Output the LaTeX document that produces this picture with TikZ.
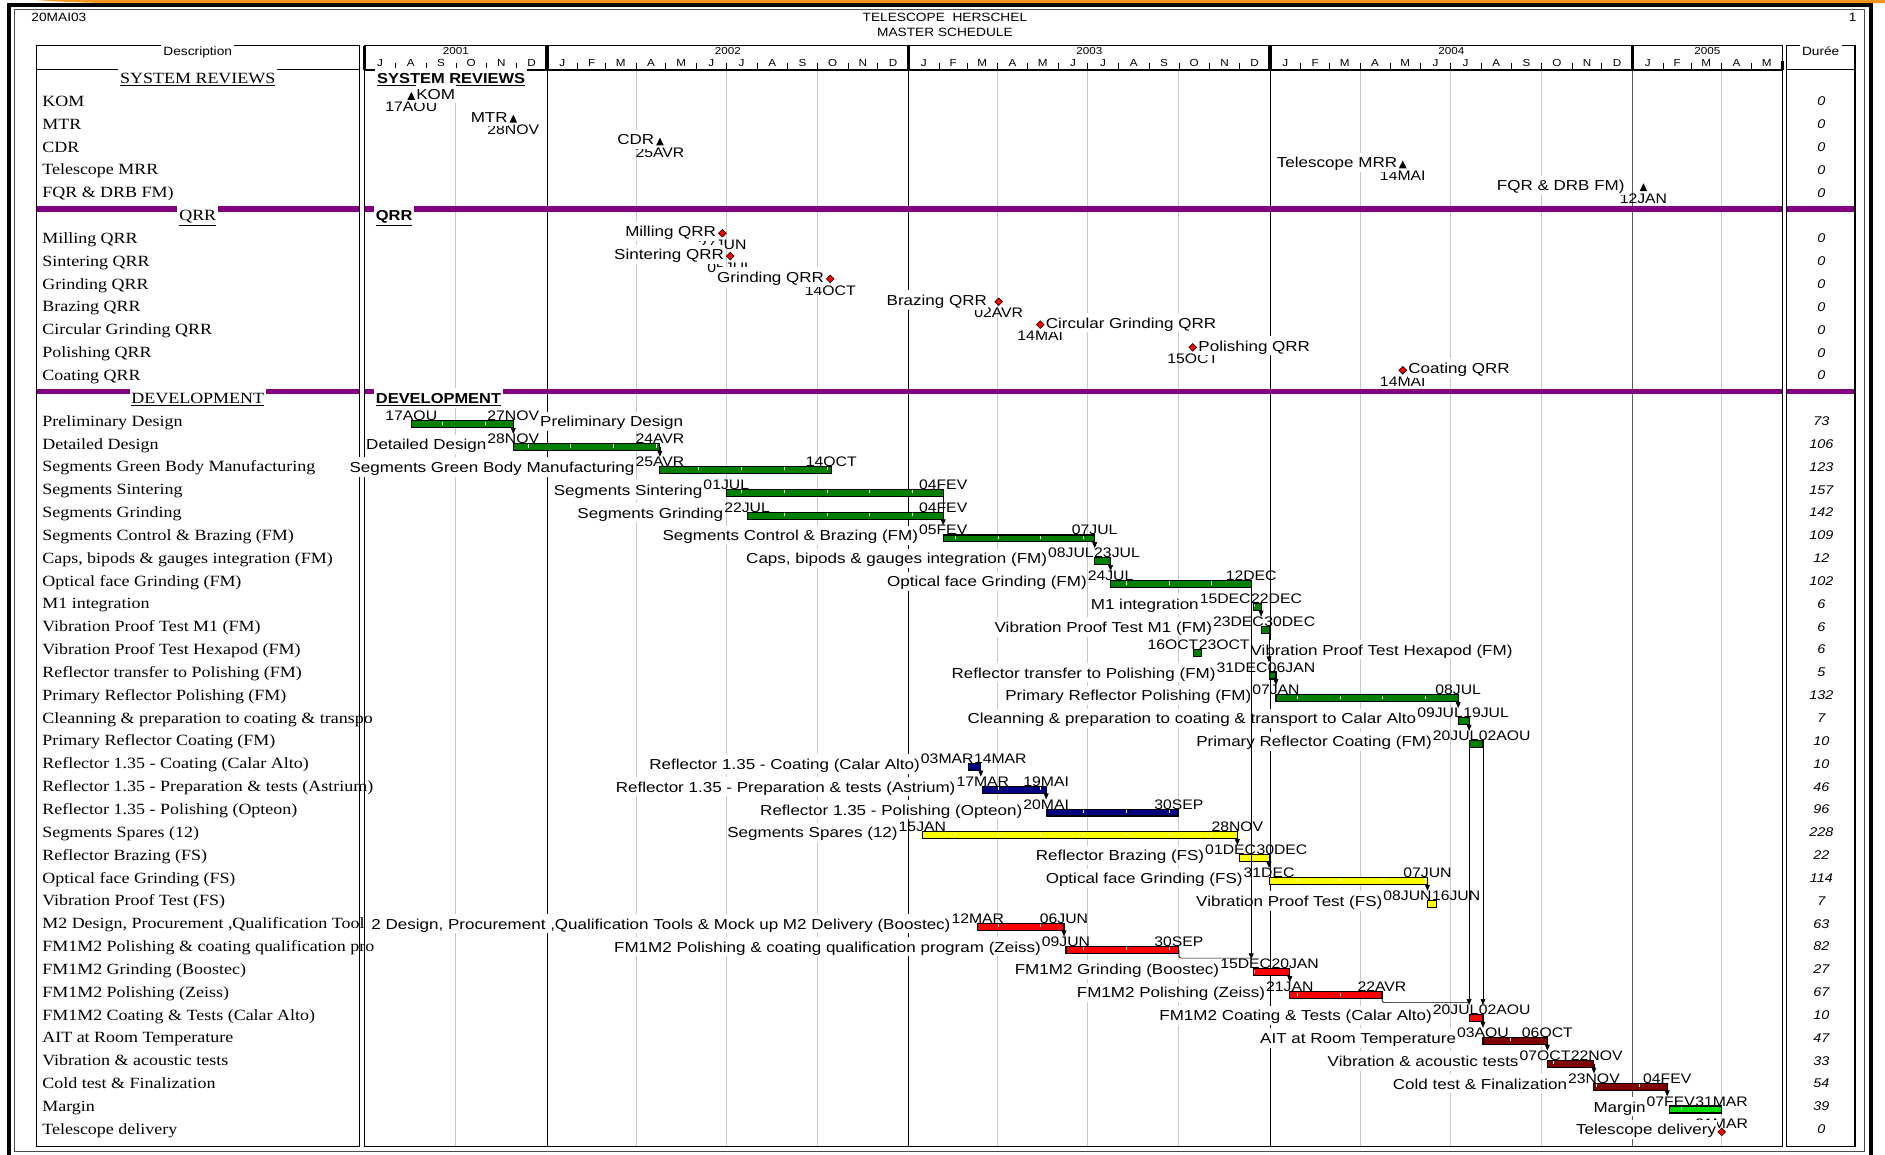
\documentclass[tikz,border=0pt]{standalone}
\usepackage{fontspec}
\newfontfamily\dfont{Liberation Serif}[FakeStretch=1.15]
\newfontfamily\hfont{Liberation Sans}[FakeStretch=1.14]
\newfontfamily\nfont{Liberation Sans}[FakeStretch=1.18]
\usetikzlibrary{arrows.meta}
\definecolor{gbar}{HTML}{008000}
\definecolor{bbar}{HTML}{000080}
\definecolor{ybar}{HTML}{FFFF00}
\definecolor{rbar}{HTML}{FF0000}
\definecolor{dbar}{HTML}{800000}
\definecolor{lbar}{HTML}{00E000}
\definecolor{purp}{HTML}{800080}
\definecolor{orng}{HTML}{F7941D}
\definecolor{gridc}{HTML}{C8C8C8}
\newcommand\fnDesc{\dfont\fontsize{13}{15}\selectfont}
\newcommand\fnName{\nfont\fontsize{12}{14}\selectfont}
\newcommand\fnDate{\hfont\fontsize{11.5}{13}\selectfont}
\newcommand\fnSmall{\hfont\fontsize{8.5}{10}\selectfont}
\newcommand\fnHead{\hfont\fontsize{10}{12}\selectfont}
\newcommand\fnDur{\hfont\itshape\fontsize{10.5}{12}\selectfont}
\newcommand\fnBold{\hfont\bfseries\fontsize{12}{14}\selectfont}
\def\XO{303.4}
\def\PD{0.8239}
\newcommand\taskcore[8]{%
  \pgfmathsetmacro\xs{\XO+\PD*#4}%
  \pgfmathsetmacro\xe{\XO+\PD*#5}%
  \coordinate (#2s) at (\xs,#3);
  \coordinate (#2e) at (\xe,#3);
  \coordinate (#2eb) at (\xe,#3+3);
  \coordinate (#2sb) at (\xs,#3+5.8);
  \coordinate (#2in) at (\xs,#3-8);
  \filldraw[fill=#6,draw=black,line width=0.9pt] (\xs,#3) rectangle (\xe,#3+5.8);
  \begin{scope}
    \clip (\xs+1,#3) rectangle (\xe-1,#3+5.8);
    \foreach \k in {0,...,31}{\draw[white,line width=0.6pt] ({368+35.55*\k},#3+0.7) -- ++(0,2.6);}
  \end{scope}
  \ifx\relax#1\relax
    \node[dlab] (#2sl) at (#2s) {#7};
    \node[dlab] (#2el) at (#2e) {#8};
  \else
    \node[dlab,anchor=base east] (#2sl) at (#1,#3) {#7};
    \node[dlab,anchor=base west] (#2el) at (#1,#3) {#8};
  \fi
}
\newcommand\taskL[9][]{\taskcore{#1}{#2}{#3}{#4}{#5}{#6}{#7}{#8}%
  \node[tname,anchor=base east] (#2n) at ([yshift=-5pt]#2sl.base west) {#9};}
\newcommand\taskR[9][]{\taskcore{#1}{#2}{#3}{#4}{#5}{#6}{#7}{#8}%
  \node[tname,anchor=base west] (#2n) at ([yshift=-5pt]#2el.base east) {#9};}
\newcommand\tri[1]{\fill (#1) ++(-3.2,0) -- ++(6.4,0) -- ++(-3.2,-6.5) -- cycle;}
\newcommand\dia[1]{\filldraw[fill=rbar,draw=black,line width=0.5pt] (#1) ++(-3.2,0) -- ++(3.2,-3.2) -- ++(3.2,3.2) -- ++(-3.2,3.2) -- cycle;}
\begin{document}
\begin{tikzpicture}[x=1pt,y=-1pt,
  dlab/.style={font=\fnDate,inner sep=0pt,anchor=base},
  tname/.style={font=\fnName,fill=white,inner xsep=0.5pt,inner ysep=1pt,text height=11.5pt,text depth=2.5pt},
  desc/.style={font=\fnDesc,inner sep=0pt,anchor=base west},
  dur/.style={font=\fnDur,inner sep=0pt,anchor=base},
  sml/.style={font=\fnSmall,inner sep=0pt,anchor=base},
  hdr/.style={font=\fnHead,inner sep=0pt,anchor=base},
  conn/.style={line width=0.6pt,-{Triangle[length=5pt,width=4pt]}},
  link/.style={line width=0.6pt,rounded corners=2pt},
  gridq/.style={gridc,line width=0.8pt},
  yearl/.style={black,line width=0.7pt},
  frame/.style={black,line width=0.9pt},
  sechd/.style={fill=white,inner xsep=1.5pt,inner ysep=1pt,text height=12pt,text depth=3pt},
]
\fill[white] (0,0) rectangle (1568,960);
\useasboundingbox (0,0) rectangle (1568,960);
% orange band and outer frame
\fill[orng] (30,0) -- (1568,0) -- (1568,2.6) -- (110,2.6) .. controls (70,2.6) and (50,1.5) .. (30,0) -- cycle;
\draw[line width=3pt] (7.3,4.2) rectangle (1556.5,963);
\draw[line width=0.8pt,black!70] (12,7.5) rectangle (1550.5,957.5);
% title
\node[hdr,anchor=base west] (ref) at (26,18) {20MAI03};
\node[hdr] (tt1) at (786,18) {TELESCOPE\ \ HERSCHEL};
\node[hdr] (tt2) at (786,30.5) {MASTER SCHEDULE};
\node[hdr] (pg) at (1541,18) {1};
% grid lines
\foreach \d in {92,274,365,457,639,730,822,1005,1096,1188,1370}
  \draw[gridq] ({\XO+\PD*\d},58) -- ({\XO+\PD*\d},954);
\foreach \d in {184,549,914}
  \draw[yearl] ({\XO+\PD*\d},58) -- ({\XO+\PD*\d},954);
\draw[line width=1.3pt,black!65] ({\XO+\PD*1280},58) -- ({\XO+\PD*1280},954);
% purple separators
\foreach \y in {171.5,323.5}{
  \fill[purp] (30,\y) rectangle (299,\y+4.5);
  \fill[purp] (303.4,\y) rectangle (1482.4,\y+4.5);
  \fill[purp] (1486,\y) rectangle (1543,\y+4.5);
}
% boxes
\draw[frame] (30,38) rectangle (299,954);
\draw[frame] (30,58) -- (299,58);
\draw[frame] (303.4,38) rectangle (1482.4,954);
\draw[line width=1.4pt] (303.4,58) -- (1482.4,58);
\draw[frame] (1486,38) rectangle (1543,954);
\draw[frame] (1486,58) -- (1543,58);
\foreach \d in {0,184,549,914,1280}
  \draw[line width=2.6pt] ({\XO+\PD*\d},38) -- ({\XO+\PD*\d},58);
\draw[line width=2.6pt] (1482.4,51) -- (1482.4,58);
\foreach \d in {31,62,92,123,153,215,243,274,304,335,365,396,427,457,488,518,580,608,639,669,700,730,761,792,822,853,883,945,974,1005,1035,1066,1096,1127,1158,1188,1219,1249,1311,1339,1370,1400}
  \draw[line width=0.6pt] ({\XO+\PD*\d},52.5) -- ++(0,5.5);
\foreach \a/\b/\l [count=\i] in {0/31/J,31/62/A,62/92/S,92/123/O,123/153/N,153/184/D,
  184/215/J,215/243/F,243/274/M,274/304/A,304/335/M,335/365/J,365/396/J,396/427/A,427/457/S,457/488/O,488/518/N,518/549/D,
  549/580/J,580/608/F,608/639/M,639/669/A,669/700/M,700/730/J,730/761/J,761/792/A,792/822/S,822/853/O,853/883/N,883/914/D,
  914/945/J,945/974/F,974/1005/M,1005/1035/A,1035/1066/M,1066/1096/J,1096/1127/J,1127/1158/A,1158/1188/S,1188/1219/O,1219/1249/N,1249/1280/D,
  1280/1311/J,1311/1339/F,1339/1370/M,1370/1400/A,1400/1431/M}
  \node[sml] (mo\i) at ({\XO+\PD*(\a+\b)/2},55.5) {\l};
\node[sml] (y1) at (379.2,45.5) {2001};
\node[sml] (y2) at (605.4,45.5) {2002};
\node[sml] (y3) at (906.1,45.5) {2003};
\node[sml] (y4) at (1207.2,45.5) {2004};
\node[sml] (y5) at (1420.2,45.5) {2005};
\node[hdr,fill=white,inner xsep=2pt,inner ysep=1.5pt] (hdesc) at (164.5,46) {Description};
\node[hdr,fill=white,inner xsep=2pt,inner ysep=1.5pt] (hdur) at (1514.5,46) {Durée};
% section headers
\node[font=\fnDesc,anchor=base,sechd] (s1) at (164.5,69.5) {\underline{SYSTEM REVIEWS}};
\node[font=\fnDesc,anchor=base,sechd] (s2) at (164.5,183.5) {\underline{QRR}};
\node[font=\fnDesc,anchor=base,sechd] (s3) at (164.5,335.5) {\underline{DEVELOPMENT}};
\node[font=\fnBold,anchor=base west,sechd] (c1) at (312,69.5) {\underline{SYSTEM REVIEWS}};
\node[font=\fnBold,anchor=base west,sechd] (c2) at (311,183.5) {\underline{QRR}\ };
\node[font=\fnBold,anchor=base west,sechd] (c3) at (311,335.5) {\underline{DEVELOPMENT}};
% description column
\node[desc] (d0) at (35,88.5) {KOM};
\node[desc] (d1) at (35,107.5) {MTR};
\node[desc] (d2) at (35,126.5) {CDR};
\node[desc] (d3) at (35,145.5) {Telescope MRR};
\node[desc] (d4) at (35,164.5) {FQR \& DRB FM)};
\node[desc] (d6) at (35,202.5) {Milling QRR};
\node[desc] (d7) at (35,221.5) {Sintering QRR};
\node[desc] (d8) at (35,240.5) {Grinding QRR};
\node[desc] (d9) at (35,259.5) {Brazing QRR};
\node[desc] (d10) at (35,278.5) {Circular Grinding QRR};
\node[desc] (d11) at (35,297.5) {Polishing QRR};
\node[desc] (d12) at (35,316.5) {Coating QRR};
\node[desc] (d14) at (35,354.5) {Preliminary Design};
\node[desc] (d15) at (35,373.5) {Detailed Design};
\node[desc] (d16) at (35,392.5) {Segments Green Body Manufacturing};
\node[desc] (d17) at (35,411.5) {Segments Sintering};
\node[desc] (d18) at (35,430.5) {Segments Grinding};
\node[desc] (d19) at (35,449.5) {Segments Control \& Brazing (FM)};
\node[desc] (d20) at (35,468.5) {Caps, bipods \& gauges integration (FM)};
\node[desc] (d21) at (35,487.5) {Optical face Grinding (FM)};
\node[desc] (d22) at (35,506.5) {M1 integration};
\node[desc] (d23) at (35,525.5) {Vibration Proof Test M1 (FM)};
\node[desc] (d24) at (35,544.5) {Vibration Proof Test Hexapod (FM)};
\node[desc] (d25) at (35,563.5) {Reflector transfer to Polishing (FM)};
\node[desc] (d26) at (35,582.5) {Primary Reflector Polishing (FM)};
\node[desc] (d27) at (35,601.5) {Cleanning \& preparation to coating \& transpo};
\node[desc] (d28) at (35,620.5) {Primary Reflector Coating (FM)};
\node[desc] (d29) at (35,639.5) {Reflector 1.35 - Coating (Calar Alto)};
\node[desc] (d30) at (35,658.5) {Reflector 1.35 - Preparation \& tests (Astrium)};
\node[desc] (d31) at (35,677.5) {Reflector 1.35 - Polishing (Opteon)};
\node[desc] (d32) at (35,696.5) {Segments Spares (12)};
\node[desc] (d33) at (35,715.5) {Reflector Brazing (FS)};
\node[desc] (d34) at (35,734.5) {Optical face Grinding (FS)};
\node[desc] (d35) at (35,753.5) {Vibration Proof Test (FS)};
\node[desc] (d36) at (35,772.5) {M2 Design, Procurement ,Qualification Tool};
\node[desc] (d37) at (35,791.5) {FM1M2 Polishing \& coating qualification pro};
\node[desc] (d38) at (35,810.5) {FM1M2 Grinding (Boostec)};
\node[desc] (d39) at (35,829.5) {FM1M2 Polishing (Zeiss)};
\node[desc] (d40) at (35,848.5) {FM1M2 Coating \& Tests (Calar Alto)};
\node[desc] (d41) at (35,867.5) {AIT at Room Temperature};
\node[desc] (d42) at (35,886.5) {Vibration \& acoustic tests};
\node[desc] (d43) at (35,905.5) {Cold test \& Finalization};
\node[desc] (d44) at (35,924.5) {Margin};
\node[desc] (d45) at (35,943.5) {Telescope delivery};
% system review milestones
\coordinate (kom) at ({\XO+\PD*47},83); \tri{kom}
\node[dlab] (komd) at ({\XO+\PD*47},93) {17AOU};
\node[tname,anchor=base west] (komn) at ({\XO+\PD*47+3.5},82.5) {KOM};
\coordinate (mtr) at ({\XO+\PD*150},102); \tri{mtr}
\node[dlab] (mtrd) at ({\XO+\PD*150},112) {28NOV};
\node[tname,anchor=base east] (mtrn) at ({\XO+\PD*150-4},101.5) {MTR};
\coordinate (cdr) at ({\XO+\PD*298},121); \tri{cdr}
\node[dlab] (cdrd) at ({\XO+\PD*298},131) {25AVR};
\node[tname,anchor=base east] (cdrn) at ({\XO+\PD*298-4},120.5) {CDR};
\coordinate (mrr) at ({\XO+\PD*1048},140); \tri{mrr}
\node[dlab] (mrrd) at ({\XO+\PD*1048},150) {14MAI};
\node[tname,anchor=base east] (mrrn) at ({\XO+\PD*1048-4},139.5) {Telescope MRR};
\coordinate (fqr) at ({\XO+\PD*1291},159); \tri{fqr}
\node[dlab] (fqrd) at ({\XO+\PD*1291},169) {12JAN};
\node[tname,anchor=base east] (fqrn) at ({\XO+\PD*1291-15},158.5) {FQR \& DRB FM)};
% QRR milestones
\coordinate (q1) at ({\XO+\PD*361},194); \dia{q1}
\node[dlab] (q1d) at ({\XO+\PD*361},207.5) {27JUN};
\node[tname,anchor=base east] (q1n) at ({\XO+\PD*361-4.5},197) {Milling QRR};
\coordinate (q2) at ({\XO+\PD*369},213); \dia{q2}
\node[dlab] (q2d) at ({\XO+\PD*369},226.5) {05JUL};
\node[tname,anchor=base east] (q2n) at ({\XO+\PD*369-4.5},216) {Sintering QRR};
\coordinate (q3) at ({\XO+\PD*470},232); \dia{q3}
\node[dlab] (q3d) at ({\XO+\PD*470},245.5) {14OCT};
\node[tname,anchor=base east] (q3n) at ({\XO+\PD*470-4.5},235) {Grinding QRR};
\coordinate (q4) at ({\XO+\PD*640},251); \dia{q4}
\node[dlab] (q4d) at ({\XO+\PD*640},264.5) {02AVR};
\node[tname,anchor=base east] (q4n) at ({\XO+\PD*640-9},254) {Brazing QRR};
\coordinate (q5) at ({\XO+\PD*682},270); \dia{q5}
\node[dlab] (q5d) at ({\XO+\PD*682},283.5) {14MAI};
\node[tname,anchor=base west] (q5n) at ({\XO+\PD*682+4},273) {Circular Grinding QRR};
\coordinate (q6) at ({\XO+\PD*836},289); \dia{q6}
\node[dlab] (q6d) at ({\XO+\PD*836},302.5) {15OCT};
\node[tname,anchor=base west] (q6n) at ({\XO+\PD*836+4},292) {Polishing QRR};
\coordinate (q7) at ({\XO+\PD*1048},308); \dia{q7}
\node[dlab] (q7d) at ({\XO+\PD*1048},321.5) {14MAI};
\node[tname,anchor=base west] (q7n) at ({\XO+\PD*1048+4},311) {Coating QRR};
% development tasks
\taskR{t14}{350}{47}{150}{gbar}{17AOU}{27NOV}{Preliminary Design}
\taskL{t15}{369}{150}{298}{gbar}{28NOV}{24AVR}{Detailed Design}
\taskL{t16}{388}{298}{471}{gbar}{25AVR}{14OCT}{Segments Green Body Manufacturing}
\taskL{t17}{407}{365}{584}{gbar}{01JUL}{04FEV}{Segments Sintering}
\taskL{t18}{426}{386}{584}{gbar}{22JUL}{04FEV}{Segments Grinding}
\taskL{t19}{445}{584}{737}{gbar}{05FEV}{07JUL}{Segments Control \& Brazing (FM)}
\taskL[910]{t20}{464}{737}{753}{gbar}{08JUL}{23JUL}{Caps, bipods \& gauges integration (FM)}
\taskL{t21}{483}{753}{895}{gbar}{24JUL}{12DEC}{Optical face Grinding (FM)}
\taskL[1040.5]{t22}{502}{897}{905}{gbar}{15DEC}{22DEC}{M1 integration}
\taskL[1051.5]{t23}{521}{905}{913}{gbar}{23DEC}{30DEC}{Vibration Proof Test M1 (FM)}
\taskR[997]{t24}{540}{837}{845}{gbar}{16OCT}{23OCT}{Vibration Proof Test Hexapod (FM)}
\taskL[1054.5]{t25}{559}{913}{920}{gbar}{31DEC}{06JAN}{Reflector transfer to Polishing (FM)}
\taskL{t26}{578}{920}{1104}{gbar}{07JAN}{08JUL}{Primary Reflector Polishing (FM)}
\taskL[1217]{t27}{597}{1104}{1115}{gbar}{09JUL}{19JUL}{Cleanning \& preparation to coating \& transport to Calar Alto}
\taskL[1230]{t28}{616}{1115}{1129}{gbar}{20JUL}{02AOU}{Primary Reflector Coating (FM)}
\taskL[810]{t29}{635}{610}{622}{bbar}{03MAR}{14MAR}{Reflector 1.35 - Coating (Calar Alto)}
\taskL{t30}{654}{624}{688}{bbar}{17MAR}{19MAI}{Reflector 1.35 - Preparation \& tests (Astrium)}
\taskL{t31}{673}{688}{822}{bbar}{20MAI}{30SEP}{Reflector 1.35 - Polishing (Opteon)}
\taskL{t32}{692}{563}{881}{ybar}{15JAN}{28NOV}{Segments Spares (12)\ }
\taskL[1045]{t33}{711}{883}{913}{ybar}{01DEC}{30DEC}{Reflector Brazing (FS)}
\taskL{t34}{730}{913}{1073}{ybar}{31DEC}{07JUN}{Optical face Grinding (FS)}
\taskL[1191]{t35}{749}{1073}{1082}{ybar}{08JUN}{16JUN}{Vibration Proof Test (FS)}
\taskL{t36}{768}{619}{706}{rbar}{12MAR}{06JUN}{2 Design, Procurement ,Qualification Tools \& Mock up M2 Delivery (Boostec)}
\taskL{t37}{787}{708}{822}{rbar}{09JUN}{30SEP}{FM1M2 Polishing \& coating qualification program (Zeiss)}
\taskL[1057.5]{t38}{806}{897}{934}{rbar}{15DEC}{20JAN}{FM1M2 Grinding (Boostec)}
\taskL{t39}{825}{934}{1027}{rbar}{21JAN}{22AVR}{FM1M2 Polishing (Zeiss)}
\taskL[1230]{t40}{844}{1115}{1129}{rbar}{20JUL}{02AOU}{FM1M2 Coating \& Tests (Calar Alto)}
\taskL{t41}{863}{1129}{1194}{dbar}{03AOU}{06OCT}{AIT at Room Temperature}
\taskL[1306.5]{t42}{882}{1194}{1241}{dbar}{07OCT}{22NOV}{Vibration \& acoustic tests}
\taskL{t43}{901}{1241}{1315}{dbar}{23NOV}{04FEV}{Cold test \& Finalization}
\taskL[1410]{t44}{920}{1317}{1370}{lbar}{07FEV}{31MAR}{Margin}
% telescope delivery milestone
\coordinate (del) at ({\XO+\PD*1370},941.5);
\node[dlab] (deld) at ({\XO+\PD*1370},938.5) {31MAR};
\node[tname,anchor=base east] (deln) at ({\XO+\PD*1370-4},944) {Telescope delivery};
\dia{del}
% connectors
\foreach \a/\b in {14/15,15/16,18/19,19/20,20/21,22/23,25/26,26/27,27/28,29/30,30/31,32/33,33/34,34/35,36/37,38/39,40/41,41/42,42/43,43/44}
  \draw[conn] (t\a eb) -- (t\a eb |- t\b in);
\draw[link] (t17eb) -- (t18e);
\draw[conn] (t21eb) -- (t21eb |- t38in);
\path (t38s) ++(0,-9) coordinate (j1);
\draw[link] (t37eb) -- (t37eb |- j1) -- (t21eb |- j1);
\draw[conn] (t23eb) -- (t23eb |- t25in);
\draw[conn] (t28sb) -- (t28sb |- t40in);
\draw[conn] (t28eb) -- (t28eb |- t40in);
\path (t40s) ++(0,-10) coordinate (j2);
\draw[link] (t39eb) -- (t39eb |- j2) -- (j2);
% durations
\foreach \r/\v in {0/0,1/0,2/0,3/0,4/0,6/0,7/0,8/0,9/0,10/0,11/0,12/0,14/73,15/106,16/123,17/157,18/142,19/109,20/12,21/102,22/6,23/6,24/6,25/5,26/132,27/7,28/10,29/10,30/46,31/96,32/228,33/22,34/114,35/7,36/63,37/82,38/27,39/67,40/10,41/47,42/33,43/54,44/39,45/0}
  \node[dur] (du\r) at (1515,{88+19*\r}) {\v};
\end{tikzpicture}
\end{document}
